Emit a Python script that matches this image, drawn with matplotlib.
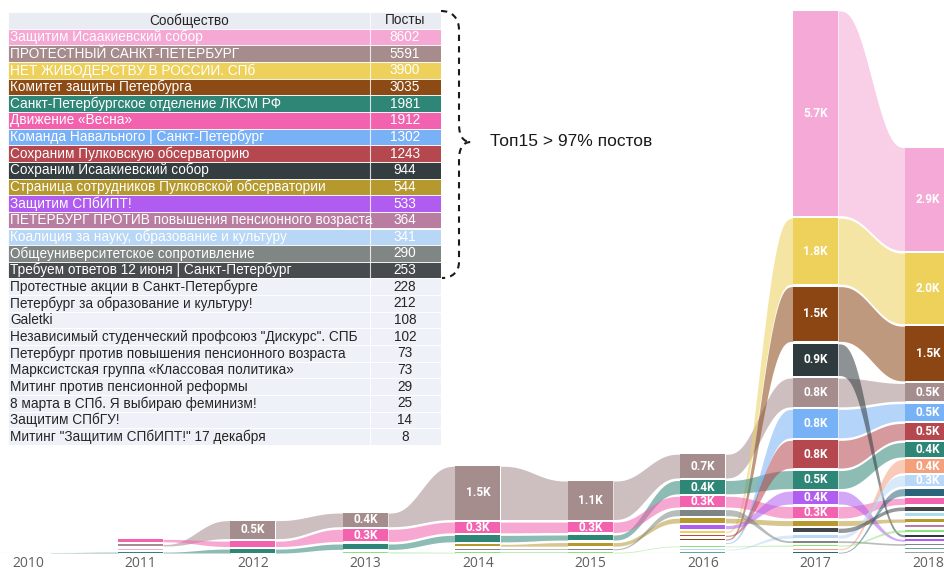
import numpy as np
import matplotlib.pyplot as plt
from matplotlib.path import Path
from matplotlib.patches import PathPatch

W, H = 944, 573

years = [2010, 2011, 2012, 2013, 2014, 2015, 2016, 2017, 2018]

# посты по годам, тыс. (оценка по картинке)
isaac      = [0, 0.03, 0, 0, 0, 0, 0, 5.69, 2.86]
protest    = [0, 0.045, 0.5, 0.38, 1.48, 1.07, 0.66, 0.8, 0.49]
zhivoder   = [0, 0, 0, 0, 0, 0, 0.04, 1.83, 1.96]
komitet    = [0, 0, 0, 0, 0, 0, 0.03, 1.52, 1.52]
lksm       = [0.01, 0.025, 0.11, 0.15, 0.18, 0.14, 0.37, 0.5, 0.4]
vesna      = [0, 0.07, 0.15, 0.34, 0.3, 0.29, 0.3, 0.32, 0.17]
navalny    = [0, 0, 0, 0, 0, 0, 0.025, 0.79, 0.48]
pulkovo    = [0, 0, 0, 0, 0, 0, 0.035, 0.77, 0.46]
isaac_save = [0, 0, 0, 0, 0, 0, 0, 0.88, 0.06]
pulk_staff = [0, 0, 0, 0, 0.05, 0.1, 0.13, 0.14, 0.09]
spbipt     = [0, 0, 0, 0, 0, 0, 0.09, 0.36, 0.05]
pension    = [0, 0, 0, 0, 0, 0, 0, 0.03, 0.37]
coalition  = [0, 0, 0, 0, 0, 0, 0.02, 0.09, 0.3]
univ       = [0, 0, 0, 0, 0.03, 0.03, 0.17, 0.05, 0.045]
june12     = [0, 0, 0, 0, 0, 0, 0, 0.12, 0.1]
actions    = [0, 0, 0, 0, 0, 0, 0, 0.02, 0.2]
green      = [0, 0, 0, 0.03, 0.02, 0.02, 0.02, 0.03, 0.065]
cyan       = [0, 0, 0, 0, 0, 0, 0, 0, 0.095]
mauvepink  = [0, 0, 0, 0, 0, 0, 0, 0, 0.07]
tealgray   = [0, 0, 0, 0, 0, 0, 0.015, 0, 0.04]
lightgray  = [0, 0, 0, 0, 0, 0, 0, 0, 0.035]

series = [isaac, protest, zhivoder, komitet, lksm, vesna, navalny, pulkovo,
          isaac_save, pulk_staff, spbipt, pension, coalition, univ, june12,
          actions, green, cyan, mauvepink, tealgray, lightgray]
colors = ["#F5A9D6", "#A58C8D", "#EDD15B", "#8B4614", "#2E8677", "#F262AE",
          "#77B2F7", "#B5474F", "#2F3A3E", "#B6982F", "#B05DF1", "#F4A07C",
          "#B9D7F7", "#7F8584", "#41464A", "#2B6478", "#8CE27A", "#A9DDEB",
          "#B87DA0", "#5FA89C", "#A0A0A0"]

# таблица
communities = [
    "Защитим Исаакиевский собор",
    "ПРОТЕСТНЫЙ САНКТ-ПЕТЕРБУРГ",
    "НЕТ ЖИВОДЕРСТВУ В РОССИИ. СПб",
    "Комитет защиты Петербурга",
    "Санкт-Петербургское отделение ЛКСМ РФ",
    "Движение «Весна»",
    "Команда Навального | Санкт-Петербург",
    "Сохраним Пулковскую обсерваторию",
    "Сохраним Исаакиевский собор",
    "Страница сотрудников Пулковской обсерватории",
    "Защитим СПбИПТ!",
    "ПЕТЕРБУРГ ПРОТИВ повышения пенсионного возраста",
    "Коалиция за науку, образование и культуру",
    "Общеуниверситетское сопротивление",
    "Требуем ответов 12 июня | Санкт-Петербург",
    "Протестные акции в Санкт-Петербурге",
    "Петербург за образование и культуру!",
    "Galetki",
    "Независимый студенческий профсоюз \"Дискурс\". СПБ",
    "Петербург против повышения пенсионного возраста",
    "Марксистская группа «Классовая политика»",
    "Митинг против пенсионной реформы",
    "8 марта в СПб. Я выбираю феминизм!",
    "Защитим СПбГУ!",
    "Митинг \"Защитим СПбИПТ!\" 17 декабря",
]
posts = [8602, 5591, 3900, 3035, 1981, 1912, 1302, 1243, 944, 544, 533, 364,
         341, 290, 253, 228, 212, 108, 102, 73, 73, 29, 25, 14, 8]
top_colors = ["#F5A8D4", "#A68C8D", "#EDD15B", "#8C4A14", "#2F8677", "#F262AE",
              "#79B1F7", "#B5484F", "#343D40", "#B5992F", "#B05CF0", "#B87DA0",
              "#B8D6F5", "#808684", "#494C4F"]

fig = plt.figure(figsize=(W / 100, H / 100), dpi=100)

# --- ленточная диаграмма ---
px_per_k = 36.0
base_px = 20
ax = fig.add_axes([0, base_px / H, 1, (H - base_px) / H])
ax.set_xlim(2010 - 28 / 112.5, 2010 + (W - 28) / 112.5)
ax.set_ylim(0, (H - base_px) / px_per_k)

vals = np.array(series, dtype=float)
n, m = vals.shape
gap = 0.07
half = 0.2
bot = np.zeros_like(vals)
top = np.zeros_like(vals)
for j in range(m):
    y = 0.0
    for i in np.argsort(vals[:, j], kind="stable"):
        if vals[i, j] <= 0:
            continue
        bot[i, j] = y
        top[i, j] = y + vals[i, j]
        y = top[i, j] + gap

t = np.linspace(0, 1, 80)
s = 6 * t**5 - 15 * t**4 + 10 * t**3
for i in range(n):
    for j in range(m - 1):
        if vals[i, j] > 0 and vals[i, j + 1] > 0:
            x0 = years[j] + half
            x1 = years[j + 1] - half
            xx = x0 + (x1 - x0) * t
            lo = bot[i, j] + (bot[i, j + 1] - bot[i, j]) * s
            hi = top[i, j] + (top[i, j + 1] - top[i, j]) * s
            ax.fill_between(xx, lo, hi, color=colors[i], alpha=0.55, lw=0, zorder=2)

ax.axhline(0, color="#D5D5D5", lw=0.8, zorder=1)

for i in range(n):
    ax.bar(years, vals[i], bottom=bot[i], width=2 * half, color=colors[i],
           lw=0, zorder=3)
    for j in range(m):
        if vals[i, j] >= 0.25:
            ax.text(years[j], (bot[i, j] + top[i, j]) / 2, f"{vals[i, j]:.1f}K",
                    ha="center", va="center", color="white", fontsize=8.6,
                    family="Roboto", fontweight="bold", zorder=4)

for sp in ax.spines.values():
    sp.set_visible(False)
ax.set_yticks([])
ax.set_xticks(years)
ax.set_xticklabels([str(y) for y in years], family="Open Sans", fontsize=10,
                   color="#605E5C")
ax.tick_params(axis="x", length=0, pad=2)

# --- таблица ---
tw = 433
tab = fig.add_axes([8 / W, 1 - 445 / H, tw / W, 433 / H])
tab.set_xlim(0, tw)
tab.set_ylim(len(communities) + 1, 0)
tab.axis("off")
row_colors = ["#E9EDF3"] + top_colors + ["#EEF2F8"] * (len(communities) - 15)
tab.barh(np.arange(len(communities) + 1) + 0.5, tw, height=1, left=0,
         color=row_colors, edgecolor="white", linewidth=0.6)
tab.axvline(362, color="white", lw=0.8, alpha=0.8)
tfont = dict(family="Liberation Sans", fontsize=9.8, va="center")
tab.text(181, 0.5, "Сообщество", ha="center", color="#252423", **tfont)
tab.text(397, 0.5, "Посты", ha="center", color="#252423", **tfont)
for k, (name, p) in enumerate(zip(communities, posts)):
    c = "white" if k < 15 else "#252423"
    tab.text(2, k + 1.5, name, ha="left", color=c, **tfont)
    tab.text(397, k + 1.5, str(p), ha="center", color=c, **tfont)

# --- фигурная скобка и подпись ---
ov = fig.add_axes([0, 0, 1, 1])
ov.set_xlim(0, W)
ov.set_ylim(H, 0)
ov.axis("off")
verts = [(441, 11), (452, 11), (459, 18), (459, 30), (459, 124),
         (459, 136), (463, 142), (471, 142),
         (463, 142), (459, 148), (459, 160), (459, 262),
         (459, 272), (452, 278), (442, 278)]
codes = [Path.MOVETO, Path.CURVE4, Path.CURVE4, Path.CURVE4, Path.LINETO,
         Path.CURVE4, Path.CURVE4, Path.CURVE4,
         Path.CURVE4, Path.CURVE4, Path.CURVE4, Path.LINETO,
         Path.CURVE4, Path.CURVE4, Path.CURVE4]
ov.add_patch(PathPatch(Path(verts, codes), fill=False, edgecolor="#1a1a1a",
                       lw=1.5, linestyle=(0, (3, 2.5))))
ov.text(490, 142, "Топ15 > 97% постов", va="center", ha="left",
        family="Liberation Sans", fontsize=12.5, color="#1a1a1a")

fig.savefig("out.png", dpi=100, facecolor="white")
